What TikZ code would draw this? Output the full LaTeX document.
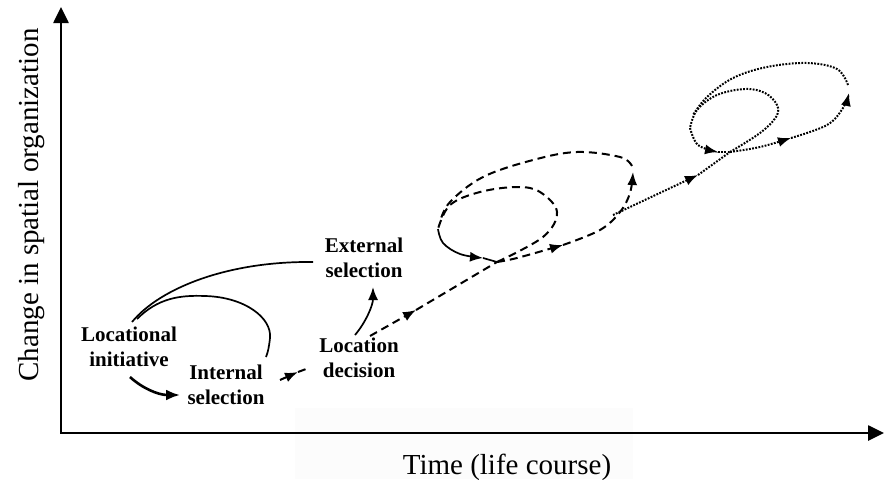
\documentclass[tikz,border=0pt]{standalone}
\usepackage{fontspec}
\setmainfont{Liberation Serif}
\usetikzlibrary{arrows.meta}
\begin{document}
\begin{tikzpicture}[x=1pt,y=-1pt,
  axis/.style={line width=2.6pt,line join=miter,
    {Triangle[length=16pt,width=15pt]}-{Triangle[length=16pt,width=15pt]}},
  stage/.style={font=\fontsize{21}{25}\selectfont\bfseries,align=center,inner sep=0pt},
  axislabel/.style={font=\fontsize{29}{34}\selectfont,inner sep=0pt},
  link/.style={line width=1.7pt},
  tip/.style={-{Latex[length=13pt,width=10pt]}},
  bigtip/.style={-{Latex[length=14pt,width=11pt]}},
  dashline/.style={line width=2pt,dash pattern=on 8pt off 5pt},
  dotline/.style={line width=2pt,dash pattern=on 1.8pt off 1.4pt},
]
\path[use as bounding box] (0,0) rectangle (885,479);
\fill[black!1.2] (295,408) rectangle (633,479);

% axes
\coordinate (ytop) at (61,7);
\coordinate (origin) at (61,433);
\coordinate (xend) at (884,433);
\draw[axis] (ytop) -- (origin) -- (xend);
\node[axislabel,rotate=90,anchor=base] (ylab) at (38,205) {Change in spatial organization};
\node[axislabel,anchor=base] (xlab) at (507,474) {Time (life course)};

% stages
\node[stage] (init) at (129,347) {Locational\\initiative};
\node[stage] (internal) at (226,385) {Internal\\selection};
\node[stage] (decision) at (359,358) {Location\\decision};
\node[stage] (external) at (364,258) {External\\selection};

% solid links
\coordinate (c1s) at (132,322);
\coordinate (c1e) at (313,262);
\draw[link] (c1s) .. controls (160,288) and (228,261) .. (c1e);
\coordinate (c2s) at (137,319);
\coordinate (c2t) at (205,296);
\coordinate (c2r) at (270,338);
\coordinate (c2e) at (266,357);
\draw[link] (c2s) .. controls (158,298) and (180,295) .. (c2t)
  .. controls (245,297) and (272,318) .. (c2r)
  .. controls (269,347) and (268,352) .. (c2e);
\coordinate (c3s) at (130,377);
\coordinate (c3e) at (180,395);
\draw[line width=2.6pt,bigtip] (c3s) .. controls (142,388) and (158,395) .. (c3e);
\coordinate (c4s) at (355,335);
\coordinate (c4e) at (373,287);
\draw[link,tip] (c4s) .. controls (366,322) and (373,305) .. (c4e);

% short dashed step
\coordinate (d0s) at (280,380);
\coordinate (d0m) at (298,372);
\coordinate (d0e) at (306,369);
\draw[dashline,tip] (d0s) -- (d0m);
\draw[dashline] (d0m) -- (d0e);

% dashed trajectory
\coordinate (p1s) at (370,336);
\coordinate (p1m) at (416,310);
\coordinate (p1x) at (497,262);
\draw[dashline,tip] (p1s) -- (p1m);
\draw[dashline] (p1m) -- (p1x);
\draw[dashline] plot[smooth,tension=0.6] coordinates
  {(497,262) (543,237) (557,212) (540,192) (517,187) (480,192) (450,205) (438,229)};
\draw[link,tip] plot[smooth,tension=0.6] coordinates
  {(438,229) (443,243) (460,254) (483,258)};
\draw[link] (483,258) -- (p1x);
\draw[dashline,tip] plot[smooth,tension=0.6] coordinates
  {(497,262) (517,258) (563,245)};
\draw[dashline,tip] plot[smooth,tension=0.6] coordinates
  {(563,245) (600,230) (620,212) (630,193) (633,172)};
\draw[dashline] plot[smooth,tension=0.6] coordinates
  {(632,166) (620,157) (577,152) (533,160) (483,177) (450,202) (440,222)};

% dotted trajectory
\coordinate (q1s) at (613,215);
\coordinate (q1m) at (698,175);
\coordinate (q1x) at (730,152);
\draw[dotline,tip] (q1s) -- (q1m);
\draw[dotline] (q1m) -- (q1x);
\draw[dotline] plot[smooth,tension=0.6] coordinates
  {(730,152) (760,133) (776,117) (777,105) (765,93) (745,89) (717,95) (697,110) (690,128)};
\draw[dotline,tip] plot[smooth,tension=0.6] coordinates
  {(690,128) (698,145) (718,152)};
\draw[dotline] (718,152) -- (q1x);
\draw[dotline,tip] plot[smooth,tension=0.6] coordinates
  {(730,152) (760,147) (791,138)};
\draw[dotline,tip] plot[smooth,tension=0.6] coordinates
  {(791,138) (827,125) (843,108) (849,93)};
\draw[dotline] plot[smooth,tension=0.6] coordinates
  {(848,85) (837,69) (807,63) (767,67) (733,78) (707,97) (693,115)};
\end{tikzpicture}
\end{document}
